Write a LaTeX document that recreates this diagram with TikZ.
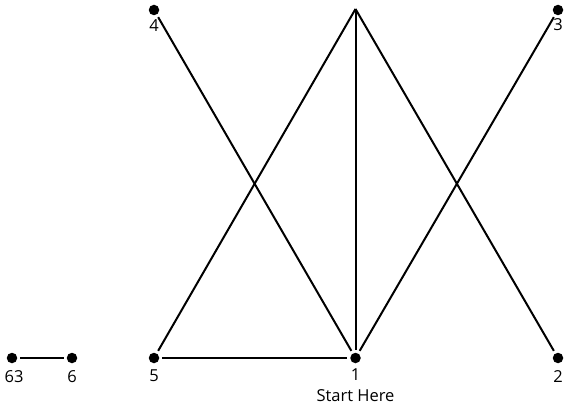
\documentclass[tikz,border=0pt]{standalone}
\usepackage{fontspec}
\setmainfont{Open Sans}
\begin{document}
\begin{tikzpicture}[x=1pt,y=-1pt,
  dot/.style={circle,fill=black,inner sep=0pt,minimum size=10.5pt,outer sep=3pt},
  lbl/.style={font=\fontsize{16.5}{18}\selectfont,inner sep=0pt},
  edge/.style={line width=2pt}]
\useasboundingbox (0,0) rectangle (580,406);
\node[dot] (n4) at (154,10) {};
\coordinate (top) at (355.5,9);
\node[dot] (n3) at (558,10) {};
\node[dot] (n5) at (154,358) {};
\node[dot] (n1) at (355.5,358) {};
\node[dot] (n2) at (558,358) {};
\node[dot] (n63) at (12,358) {};
\node[dot] (n6) at (72,358) {};
\node[lbl] (l4) at (154,26) {4};
\node[lbl] (l3) at (558,25) {3};
\node[lbl] (l5) at (154,376) {5};
\node[lbl] (l1) at (355.5,375) {1};
\node[lbl] (ls) at (355.5,396) {Start Here};
\node[lbl] (l2) at (558,377) {2};
\node[lbl] (l63) at (14,377) {63};
\node[lbl] (l6) at (72,377) {6};
\draw[edge] (n4) -- (n1);
\draw[edge] (n3) -- (n1);
\draw[edge] (top) -- (n5);
\draw[edge] (top) -- (n1);
\draw[edge] (top) -- (n2);
\draw[edge] (n5) -- (n1);
\draw[edge] (n63) -- (n6);
\end{tikzpicture}
\end{document}
